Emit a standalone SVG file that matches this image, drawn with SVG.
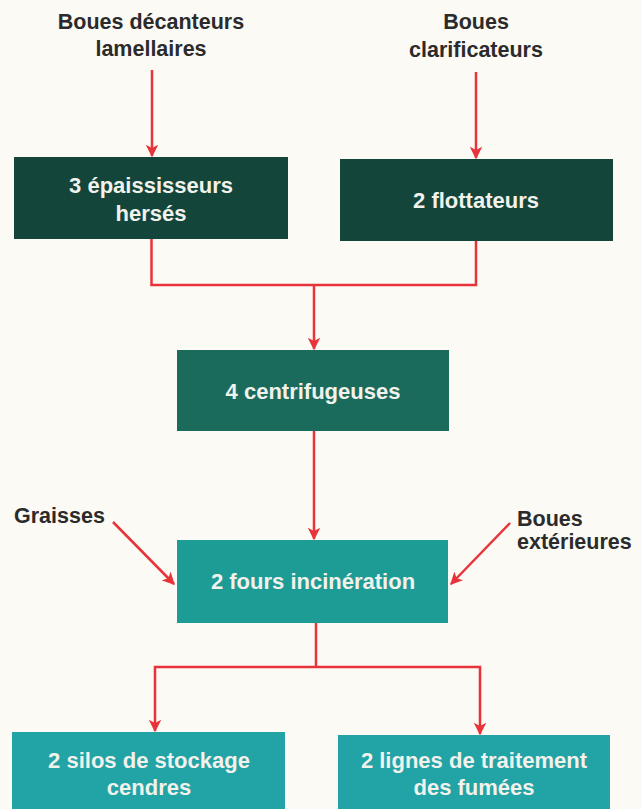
<svg xmlns="http://www.w3.org/2000/svg" width="642" height="809" viewBox="0 0 642 809">
<defs>
<marker id="ah" viewBox="0 0 10 10" refX="9" refY="5" markerWidth="5" markerHeight="5" orient="auto" markerUnits="strokeWidth">
<path d="M0,0 L10,5 L0,10 L2.5,5 z" fill="#e8333a"/>
</marker>
<style>
.lbl{font-family:"Liberation Sans",Arial,sans-serif;font-weight:bold;font-size:21.5px;fill:#2b2b2b;text-anchor:middle}
.bt{font-family:"Liberation Sans",Arial,sans-serif;font-weight:bold;font-size:22px;fill:#f2f2ec;text-anchor:middle}
.dark{fill:#13453b}
.mid{fill:#1a6b5c}
.teal{fill:#1d9c96}
.teal2{fill:#22a3a6}
.c{stroke:#e8333a;stroke-width:2.5;fill:none}
</style>
</defs>
<rect width="642" height="809" fill="#fbfaf5"/>
<g id="src-decanteurs"><text class="lbl" x="151" y="29">Boues décanteurs</text><text class="lbl" x="151" y="56">lamellaires</text></g>
<g id="src-clarificateurs"><text class="lbl" x="476" y="29">Boues</text><text class="lbl" x="476" y="57">clarificateurs</text></g>
<g id="src-graisses"><text class="lbl" x="14" y="523" style="text-anchor:start">Graisses</text></g>
<g id="src-exterieures"><text class="lbl" x="517" y="526" style="text-anchor:start">Boues</text><text class="lbl" x="517" y="549" style="text-anchor:start">extérieures</text></g>
<g id="epaississeurs"><rect class="dark" x="14" y="157" width="274" height="82"/><text class="bt" x="151" y="193">3 épaississeurs</text><text class="bt" x="151" y="221">hersés</text></g>
<g id="flottateurs"><rect class="dark" x="340" y="159" width="273" height="82"/><text class="bt" x="476" y="208">2 flottateurs</text></g>
<g id="centrifugeuses"><rect class="mid" x="177" y="350" width="272" height="81"/><text class="bt" x="313" y="399">4 centrifugeuses</text></g>
<g id="fours"><rect class="teal" x="177" y="540" width="271" height="83"/><text class="bt" x="313" y="589">2 fours incinération</text></g>
<g id="silos"><rect class="teal2" x="12" y="732" width="273" height="80"/><text class="bt" x="149" y="768">2 silos de stockage</text><text class="bt" x="149" y="795">cendres</text></g>
<g id="fumees"><rect class="teal2" x="338" y="735" width="272" height="80"/><text class="bt" x="474" y="768">2 lignes de traitement</text><text class="bt" x="474" y="795">des fumées</text></g>
<g id="connectors">
<line class="c" x1="152" y1="70" x2="152" y2="156" marker-end="url(#ah)"/>
<line class="c" x1="476" y1="72" x2="476" y2="158" marker-end="url(#ah)"/>
<polyline class="c" points="151.5,239 151.5,285 476,285 476,241"/>
<line class="c" x1="314" y1="285" x2="314" y2="349" marker-end="url(#ah)"/>
<line class="c" x1="314" y1="431" x2="314" y2="539" marker-end="url(#ah)"/>
<line class="c" x1="113" y1="522" x2="174" y2="584" marker-end="url(#ah)"/>
<line class="c" x1="510" y1="523" x2="451" y2="584" marker-end="url(#ah)"/>
<line class="c" x1="316" y1="623" x2="316" y2="667"/>
<polyline class="c" points="316,667 155,667 155,731" marker-end="url(#ah)"/>
<polyline class="c" points="316,667 480,667 480,734" marker-end="url(#ah)"/>
</g>
</svg>
